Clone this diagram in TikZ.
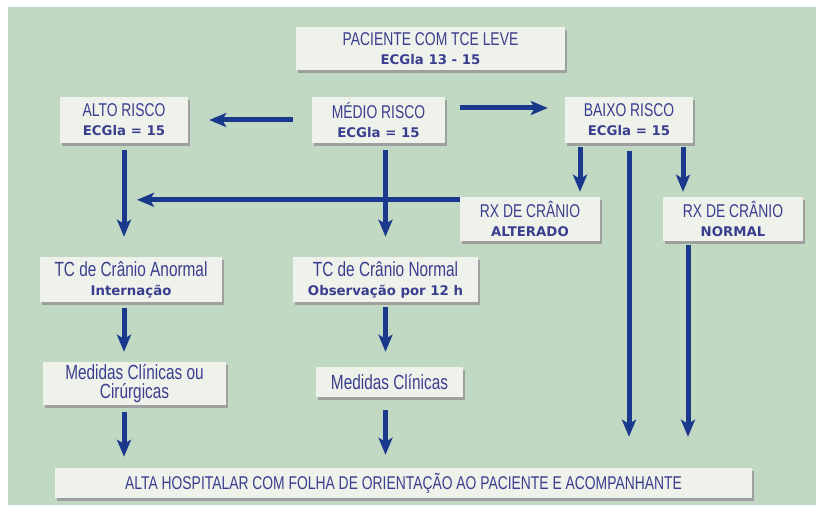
\documentclass[tikz,border=0pt]{standalone}
\usepackage{fontspec}
\setmainfont{Liberation Sans}
\newfontfamily\estreita{Liberation Sans}[FakeStretch=0.75]
\newfontfamily\negrito{DejaVu Sans Bold}
\usetikzlibrary{arrows.meta, shadows}
\definecolor{fundo}{RGB}{193,216,195}
\definecolor{caixa}{RGB}{239,242,235}
\definecolor{texto}{RGB}{58,62,142}
\definecolor{seta}{RGB}{27,57,140}
\newcommand\tsup[1]{{\estreita\fontsize{18.5}{19}\selectfont #1}}
\newcommand\tinf[1]{{\estreita\fontsize{20.5}{19}\selectfont #1}}
\newcommand\tneg[1]{{\negrito\fontsize{13.3}{19}\selectfont #1}}

\begin{document}
\begin{tikzpicture}[x=1pt, y=-1pt,
    bloco/.style={fill=caixa, text=texto, align=center, inner sep=0pt,
      font=\fontsize{13}{19}\selectfont,
      drop shadow={shadow xshift=2pt, shadow yshift=-3pt, fill=gray!75, opacity=1}},
    seta/.style={draw=seta, line width=5pt, -{Stealth[length=17pt, width=14pt, inset=4pt]}}]
  %tce leve, fluxograma
    \useasboundingbox (0,0) rectangle (816,505);
    \fill[fundo] (8,7) rectangle (816,505);
    \node[bloco, minimum width=269, minimum height=43] (pac) at (430.5,48.5) {\tsup{PACIENTE COM TCE LEVE}\\\tneg{ECGla 13 - 15}};
    \node[bloco, minimum width=128, minimum height=46] (alto) at (124,120) {\tsup{ALTO RISCO}\\\tneg{ECGla = 15}};
    \node[bloco, minimum width=133, minimum height=46] (medio) at (378.5,120) {\tsup{MÉDIO RISCO}\\\tneg{ECGla = 15}};
    \node[bloco, minimum width=128, minimum height=46] (baixo) at (629,120) {\tsup{BAIXO RISCO}\\\tneg{ECGla = 15}};
    \node[bloco, minimum width=140, minimum height=44] (rxalt) at (530,219) {\tsup{RX DE CRÂNIO}\\\tneg{ALTERADO}};
    \node[bloco, minimum width=140, minimum height=44] (rxnorm) at (733,219) {\tsup{RX DE CRÂNIO}\\\tneg{NORMAL}};
    \node[bloco, minimum width=182, minimum height=45] (tcanorm) at (131,279.5) {\tinf{TC de Crânio Anormal}\\\tneg{Internação}};
    \node[bloco, minimum width=185, minimum height=45] (tcnorm) at (385.5,279.5) {\tinf{TC de Crânio Normal}\\\tneg{Observação por 12 h}};
    \node[bloco, minimum width=183, minimum height=43] (medcir) at (134.5,383.5) {\tinf{Medidas Clínicas ou}\\\tinf{Cirúrgicas}};
    \node[bloco, minimum width=147, minimum height=30] (medcli) at (389.5,382) {\tinf{Medidas Clínicas}};
    \node[bloco, minimum width=697, minimum height=30] (alta) at (403.5,483) {\tsup{ALTA HOSPITALAR COM FOLHA DE ORIENTAÇÃO AO PACIENTE E ACOMPANHANTE}};
    \draw[seta, shorten <=19pt, shorten >=21pt] (medio.west) -- (medio.west -| alto.east);
    \draw[seta, shorten <=15pt, shorten >=17pt] ([yshift=12pt]medio.east) -- ([yshift=12pt]baixo.west);
    \draw[seta, shorten <=7pt, shorten >=20pt] (alto.south) -- (alto.south |- tcanorm.north);
    \draw[seta, shorten <=7pt, shorten >=20pt] (medio.south -| tcnorm.north) -- (tcnorm.north);
    \draw[seta, shorten >=13pt] ([yshift=-3pt]rxalt.north west) -- ([yshift=-3pt]rxalt.north west -| alto.south);
    \draw[seta, shorten <=4pt, shorten >=5pt] ([xshift=50pt]rxalt.north |- baixo.south) -- ([xshift=50pt]rxalt.north);
    \draw[seta, shorten <=4pt, shorten >=5pt] ([xshift=-50pt]rxnorm.north |- baixo.south) -- ([xshift=-50pt]rxnorm.north);
    \draw[seta, shorten <=8pt, shorten >=31pt] (baixo.south) -- (baixo.south |- alta.north);
    \draw[seta, shorten <=4pt, shorten >=31pt] ([xshift=-45pt]rxnorm.south) -- ([xshift=-45pt]rxnorm.south |- alta.north);
    \draw[seta, shorten <=6pt, shorten >=10pt] (tcanorm.south -| alto.south) -- (medcir.north -| alto.south);
    \draw[seta, shorten <=5pt, shorten >=15pt] (tcnorm.south) -- (tcnorm.south |- medcli.north);
    \draw[seta, shorten <=7pt, shorten >=11pt] (medcir.south -| alto.south) -- (alta.north -| alto.south);
    \draw[seta, shorten <=13pt, shorten >=13pt] (medcli.south -| tcnorm.south) -- (alta.north -| tcnorm.south);
  \end{tikzpicture}
\end{document}
